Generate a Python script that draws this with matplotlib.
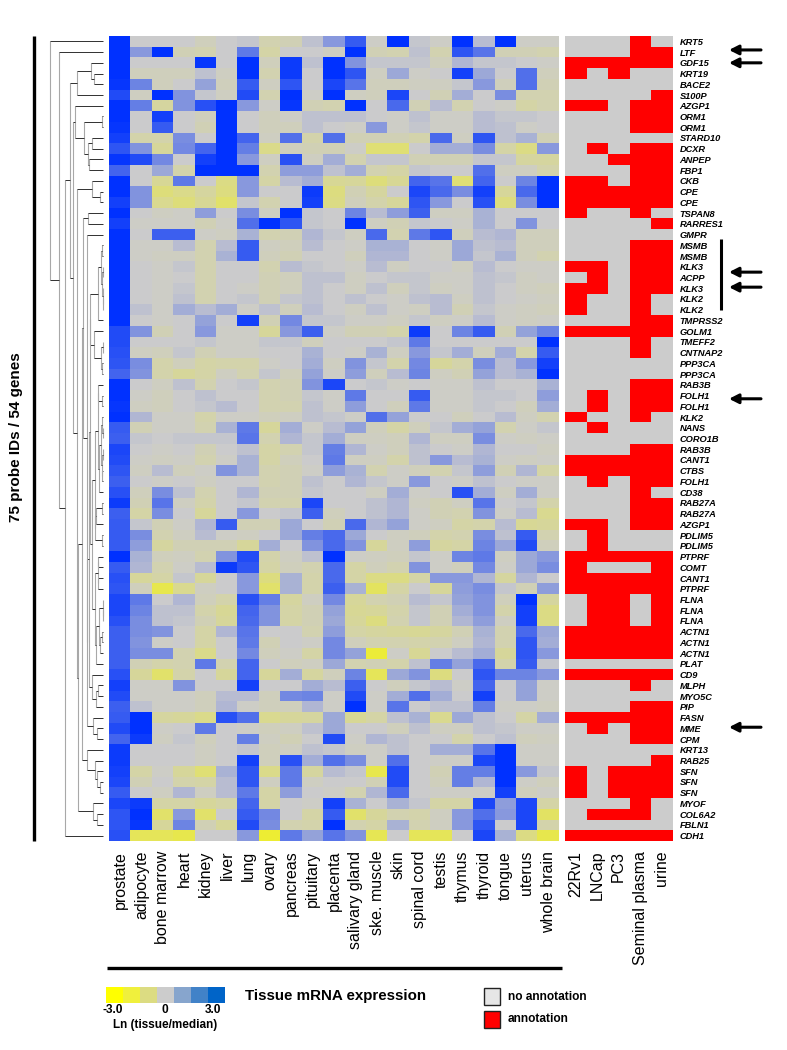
import matplotlib
matplotlib.use("Agg")
import matplotlib.pyplot as plt
from matplotlib.colors import LinearSegmentedColormap, ListedColormap
import numpy as np

plt.rcParams['font.family'] = ['Liberation Sans', 'DejaVu Sans']

tissues = ["prostate", "adipocyte", "bone marrow", "heart", "kidney", "liver", "lung", "ovary",
           "pancreas", "pituitary", "placenta", "salivary gland", "ske. muscle", "skin",
           "spinal cord", "testis", "thymus", "thyroid", "tongue", "uterus", "whole brain"]
sources = ["22Rv1", "LNCap", "PC3", "Seminal plasma", "urine"]
genes = ["KRT5", "LTF", "GDF15", "KRT19", "BACE2", "S100P", "AZGP1", "ORM1", "ORM1", "STARD10",
         "DCXR", "ANPEP", "FBP1", "CKB", "CPE", "CPE", "TSPAN8", "RARRES1", "GMPR", "MSMB",
         "MSMB", "KLK3", "ACPP", "KLK3", "KLK2", "KLK2", "TMPRSS2", "GOLM1", "TMEFF2", "CNTNAP2",
         "PPP3CA", "PPP3CA", "RAB3B", "FOLH1", "FOLH1", "KLK2", "NANS", "CORO1B", "RAB3B", "CANT1",
         "CTBS", "FOLH1", "CD38", "RAB27A", "RAB27A", "AZGP1", "PDLIM5", "PDLIM5", "PTPRF", "COMT",
         "CANT1", "PTPRF", "FLNA", "FLNA", "FLNA", "ACTN1", "ACTN1", "ACTN1", "PLAT", "CD9",
         "MLPH", "MYO5C", "PIP", "FASN", "MME", "CPM", "KRT13", "RAB25", "SFN", "SFN",
         "SFN", "MYOF", "COL6A2", "FBLN1", "CDH1"]

# Ln(tissue/median), one row per probe
expression = [
    [3, 0, 0, 0, -.3, 0, .1, -.5, -.4, .2, 1, 2.2, -.1, 3, .1, -.1, 3, .3, 3, -.1, -.1],
    [3, 1, 3, -.4, -.5, 0, 1.6, -.7, 0, 0, -.2, 3, -.4, -.5, .2, -.5, 2.3, 1.7, -.4, -.4, -.5],
    [3, 0, 0, 0, 2.9, 0, 3, -.3, 2.8, .2, 3, 1.1, .1, .1, .1, -.3, .4, .1, .1, 0, -.1],
    [3, -.3, -.3, -.3, .2, -.2, 3, -.5, 2.8, 0, 3, 2.3, -.2, .7, -.1, 0, 2.7, .7, 0, 1.8, -.3],
    [2.9, 1.4, -.3, 0, .8, -.3, 2.2, -.2, 2.3, 0, 2.6, 1.7, -.3, -.3, -.2, -.2, .1, 1, -.3, 1.8, -.4],
    [2.5, -.2, 3, 1.1, .1, -.2, 2.5, -.5, 3, -.1, 3, -.2, -.3, 2.6, 0, -.4, .6, 0, 1.2, -.5, -.5],
    [3, 1.5, -.8, 1.1, 2.4, 3, 1, -.1, 2.9, -.4, -.5, 3, 0, 1.9, -.4, .3, -.5, 0, -.1, -.7, -.5],
    [3, 0, 2.7, 0, -.3, 3, 0, -.3, -.1, .2, .2, .2, 0, -.1, .2, -.1, -.1, .3, .1, .1, 0],
    [2.9, 0, 2.2, 0, -.4, 3, 0, -.3, -.3, .2, 0, -.1, 1, -.1, .1, -.1, -.1, .3, .2, -.1, 0],
    [2.7, -.6, -.6, 1.2, 0, 3, 2, -.2, 1.8, -.6, 1.8, -.4, -.4, -.4, -.6, 1.9, -.2, 2.3, .2, .5, -.4],
    [2.3, 1.1, -.9, 1.3, 2, 3, 1.5, -1.2, -.3, -.4, -.4, -.1, -1.6, -1.6, 0, .6, .6, 1.2, -.7, -1.3, 1],
    [2.9, 2.5, 1.3, 0, 2.7, 3, 1, -.2, 2.4, -.2, .6, -.5, .1, .1, -.4, -.4, -.4, .1, .1, -.8, -.8],
    [2, 0, .7, -.6, 3, 3, 3, -.5, .9, .9, .2, .6, -.5, -.7, .1, 0, 0, 1.8, -.2, -.2, -.6],
    [3, 0, -1, 1.6, 0, -1.3, 1, -.7, .3, .6, -1, -.9, -1.5, -1, 2, 1.7, -1.6, 2, 0, 1.4, 3],
    [3, 1.1, -1.5, -1.2, -.8, -1.4, 1, 0, 0, 2.8, -1.4, -.4, -.8, 0, 2.6, 1.9, 1.2, 2.7, -.9, 1.9, 3],
    [2.7, 1.1, -1.1, -1.5, -1, -1.8, .1, -.5, 0, 2.7, -1.3, -.3, -.6, -.9, 2.3, 1, 0, 2.4, -1.4, 1.2, 3],
    [3, 0, -.2, -.1, .9, 0, 1.2, -.2, 3, .1, 0, 1.4, .3, .9, 2.1, -.2, -.2, .5, 0, 0, 0],
    [2.7, -.1, -.1, -.1, -.4, -.1, 1.8, 3, 2.3, .1, 0, 3, -.2, -.4, .1, 0, -.1, .5, 0, 1.1, 0],
    [3, 0, 2.1, 2.1, -.1, -.2, .5, -.5, -.4, .4, .1, -.2, 1.9, -.5, 1.6, 2.3, -.3, .3, .4, -.3, -.3],
    [3, -.1, -.1, .3, -.5, .3, 2.2, -.2, -.3, .3, 0, -.1, .5, .5, 0, -.1, .7, .2, .3, -.3, -.3],
    [3, -.1, -.2, -.2, -.5, .5, 2.2, -.3, -.4, 0, 0, -.3, .4, .4, 0, -.1, .7, .1, .5, -.3, -.5],
    [3, 0, -.1, .1, -.5, 0, 0, -.5, .3, .1, 0, -.1, .3, -.2, 0, 0, -.2, .3, 0, -.1, -.1],
    [3, 0, -.1, 0, -.5, 0, 0, -.4, -.3, .2, .2, -.2, 0, .1, .1, -.1, -.1, .2, .1, -.2, -.1],
    [3, 0, -.1, .1, -.5, 0, -.1, -.4, -.3, .2, 0, -.2, .2, -.3, .1, -.2, -.1, .2, 0, -.2, -.3],
    [3, 0, -.1, .2, -.5, 0, .1, -.4, .1, .2, 0, .2, 0, -.1, .2, .3, -.2, .2, 0, -.1, -.2],
    [3, .2, -.1, .6, .3, .6, -.1, .2, -.3, .3, 0, -.2, .2, -.1, -.2, .3, -.4, .1, -.1, -.2, -.3],
    [3, 0, -.1, 0, .8, 0, 2.7, -.4, 1.3, .1, .1, -.1, -.1, -.2, .1, -.2, -.1, .3, -.1, -.2, -.1],
    [2.5, 1.1, -.4, 0, 1, -.1, -.1, -.9, 1, 2.1, -.1, -.4, -.4, -.6, 2.8, 0, 1.4, 2.2, -.4, .8, 1.4],
    [2.5, 0, 0, 0, .1, -.1, -.1, .1, .1, -.3, 0, 0, 0, .1, 1.6, 0, 0, 0, 0, 0, 3],
    [2.4, -.2, -.3, .1, -.4, -.1, -.1, 0, 0, .5, 0, -.1, .5, -.2, 1, .1, .6, -.3, .6, -.6, 2.2],
    [2.3, 1.2, -.6, -.3, -.7, -.6, -.6, -.1, 0, .6, -.2, 1.1, .1, -.6, 1.3, -.9, -.6, 1.2, .3, 1, 2.7],
    [2, 1.1, -.6, -.9, -.7, -.2, -.5, .1, -.3, .8, -.1, .9, -.3, .3, 1.4, -.2, -.4, .8, .3, .5, 3],
    [3, 0, -.2, .2, -.5, 0, .1, -.5, -.4, 1.1, 2.6, 0, .1, -.1, 0, -.1, -.1, .2, 0, 0, .5],
    [3, -.1, -.3, 0, .2, 0, 0, -.5, -.4, .1, -.1, 1.6, 0, 0, 2.2, -.1, -.1, .1, .1, 0, .9],
    [2.9, -.2, -.3, 0, .1, .3, 0, -.5, -.5, .2, -.1, .9, 0, -.3, 1.6, -.1, -.1, .1, 0, -.3, .6],
    [3, .4, -.1, -.1, -.6, -.1, -.1, -.3, -.2, .2, .1, -.1, 1.8, .8, 0, 0, -.3, 0, .3, -.2, -.5],
    [2.2, -.4, -.1, -.1, -.5, .5, 1.6, -.9, .6, -.1, .3, .8, -.3, -.7, -.3, .1, .6, .8, -.5, -.1, .1],
    [2.1, .1, 0, .1, .1, .1, 1.7, -.5, .4, .1, .6, -.2, -.2, -.3, .4, -.2, -.2, 1.2, -.1, -.2, -.1],
    [2.6, 0, -.1, 0, -.4, 0, .2, -.7, -.5, .1, 1.5, .4, -.1, -.3, .2, 0, -.1, .4, 0, 0, -.2],
    [2.5, -.1, -.2, -.1, -.5, -.1, .5, -.7, -.3, 0, 1.6, -.2, -.2, -.6, .2, 1, .3, .5, -.1, -.2, -.1],
    [2.3, -.2, .3, -.3, -.1, 1.1, .5, -.5, -.4, -.1, .9, .5, -.5, -.1, -.3, -.5, .1, .9, -.4, .4, -.7],
    [2.1, 0, -.1, 0, -.2, 0, 0, -.5, -.4, .2, 0, .4, .1, -.1, 1, 0, -.1, .2, 0, -.1, -.1],
    [2.4, -.3, 1.2, .2, -.5, 0, .4, -.4, -.4, .1, 0, 0, -.2, .6, -.1, 0, 2.4, .6, -.2, .6, -.1],
    [2.8, -.4, 1.7, -.2, -.6, 0, .1, -.5, -.5, 2.6, 0, 0, .2, .4, -.2, -.4, -.2, 1.7, 0, .1, -.6],
    [2.1, -.7, 1.2, 0, -.9, 0, 1, 0, .1, 2.1, -.3, 0, .2, .4, -.1, -.4, -.5, 1.1, -.1, .3, -1.1],
    [2.2, .1, -.4, -.1, .4, 2.2, -.4, -.4, .7, 0, -.4, 1.9, .4, .8, -.1, -.2, -.7, -.6, .3, -1, -.9],
    [2.2, 1.2, -.5, -.2, .3, -.1, -.2, 0, .7, 1.5, 1.9, .7, 0, -.2, -.3, -.6, -.5, 1.2, .2, 2.2, -.5],
    [2.2, .9, -.8, -.4, -.4, -.4, -.9, .6, 0, 1.1, 1.9, 1.1, -.9, -.2, .9, -.8, -.7, 1.4, .7, 2.5, -.3],
    [3, .5, -.3, -.2, -.5, 1.1, 2.5, -.6, -.2, .2, 3, -.1, -.2, -.3, .1, -.1, 1.4, 1.6, -.2, .7, 1],
    [2.2, .4, -.5, -.1, .3, 2.8, 2.3, -.7, -.3, -.5, 1.9, -.7, -.3, -.5, 1.1, -.1, -.3, 1.3, -.1, .7, 1.2],
    [2.4, -.9, -.7, .1, -.9, 0, 1, -1.4, .5, -.6, 1.9, -.7, -1.3, -1.3, -.7, 1, 1, .4, -.8, .4, 0],
    [2.3, -.3, -2.3, -1.1, -.2, 0, 1, -1.8, .5, -.6, 2.1, .5, -2, -.7, 0, -.9, .9, 1.2, .1, -.4, .9],
    [2.6, 1.6, 0, .4, -.3, -.6, 2.4, 1.5, -.8, -.2, 1.3, -.9, -.5, -.4, .3, .1, .8, 1.1, -.3, 3, -.8],
    [2.6, 1.4, .2, .2, -.6, -1, 2, 1.1, -.7, -.4, .8, -1, -.9, -.6, .1, -.4, .6, 1.1, -.6, 2.7, -1.3],
    [2.4, 1.2, .2, .1, -.4, -.9, 1.9, 1.1, -.7, -.4, .7, -.9, -1.4, -.5, .1, -.4, .4, .9, -.2, 2.7, -1.3],
    [2.1, 1.2, 1.1, 0, -.7, .4, 1.7, 0, 0, -.5, .9, -.7, -.8, -.9, -1, -.8, -.4, .5, -.5, 1.9, .7],
    [2.1, 1.1, -.1, 0, -.7, 0, 1.6, -.4, 0, -.1, 1.3, -.3, -.5, -.5, -.6, -.5, -.2, .4, -.5, 2.3, .6],
    [2.1, 1.2, 1.2, -.5, -1.2, 0, 1.3, -.3, -.1, -.7, 1.3, .8, -2.7, -.1, -1, 0, .3, .6, -.9, 2.3, 1],
    [2.1, -.4, -.6, -.5, 1.6, -.5, 2, 0, -.3, -.2, .7, -.5, -.4, -.6, .2, 1.5, .8, 1.9, -.6, 2.2, .1],
    [2.4, -.9, -1.8, -.6, 0, -.9, 2, -.9, .6, -.8, -.3, 1.4, -2.1, .7, 1.1, -1.4, 0, 2.3, 1.4, 1.4, 1],
    [2.7, -.1, -.1, 1.1, 0, 0, 2.7, 0, 0, .6, .3, 2.1, 0, -.3, .1, .3, -.1, 2, 0, .8, -.1],
    [2.5, -.1, -.1, -.1, -.3, .3, .3, -.3, 1.3, 1.4, -.1, 2.5, -.1, .6, 1.8, .6, 0, 2.7, 0, .8, -.1],
    [2.1, .2, -.1, -.1, -.3, .4, -.1, -.3, -.3, .4, -.1, 3, -.1, 1.7, 0, .2, .2, 1.5, -.1, -.1, -.2],
    [2.2, 3, -.8, -.9, -1.2, 2.4, 1.8, -1.1, -.9, -.8, .7, -1, -.7, .2, .5, -1.1, .7, .2, 0, -.7, .6],
    [2.5, 3, -.1, 0, 1.6, 0, -.1, -.3, -.2, .2, .7, 0, 0, -.3, .2, -.2, -.2, .2, .1, -.1, -.1],
    [2, 2.8, -.2, .1, -.3, 0, 1.5, -.2, -.4, 0, 2.5, -.1, .4, .2, 0, 0, -.6, 0, .2, -.3, -.2],
    [2.8, 0, 0, 0, -.2, 0, .1, -.3, -.2, .2, .1, -.2, -.1, .2, 0, .6, .6, 1.7, 3, -.1, -.1],
    [2.8, 0, 0, 0, -.2, 0, 2.7, -.3, 2.4, .6, 1.8, 1.2, -.1, 1.8, 0, -.1, -.1, 2.6, 3, -.1, -.1],
    [2.7, -.7, -.1, -.9, -1.6, .5, 2.3, -1.2, 1.6, -.8, .3, .1, -2.3, 2.5, 0, -.4, 1.5, 1.5, 3, 1, .1],
    [2.6, -.4, 0, -.6, -.7, .3, 2.3, -.2, 1.6, -.2, 0, 0, -.4, 2.5, 0, -.3, 1.5, .4, 3, -.1, -.3],
    [2.2, 0, -.2, .4, -.2, .3, 1.6, -.7, .9, 0, -.1, -.5, .4, 1.9, 0, -.1, -.1, -.1, 2.7, -.3, -.1],
    [2.6, 2.8, -.7, -.7, -.9, -.7, 2, -.7, 0, -.1, 2.7, .5, 0, .5, .1, -.7, -.7, 2.6, .9, 2.6, -.7],
    [2.3, 3, -1.8, 1, -1.8, 0, 2.2, 1.3, 0, -.7, 2.2, -1.8, -.9, -.5, -.6, -.2, 1, 1.8, 1, 2.6, -1.9],
    [2.3, 2.9, -.9, 1.4, -.4, -.9, 2.5, 1.2, -.5, -.6, 3, -.5, -.7, .5, -.5, -.2, 1, 2.3, 0, 2.6, -.6],
    [2.4, -2.1, -2.1, -2.3, 0, 0, 1, -2.8, 1.6, .8, 1.7, 1.1, -2.2, 0, -2.1, -2.1, 0, 2.6, .5, -1.3, -2.3],
]

# 1 = annotated, columns as in sources
annotation = ["00010", "00011", "11111", "10100", "00000", "00001", "11011", "00011", "00011", "00000",
              "01011", "00111", "00011", "11011", "11111", "11111", "10010", "00001", "00000", "00011",
              "00011", "11011", "01011", "11011", "10010", "10010", "00011", "11111", "00010", "00010",
              "00000", "00000", "00011", "01011", "01011", "10010", "01000", "00000", "00011", "11111",
              "11111", "01011", "00010", "00011", "00011", "11011", "01000", "01000", "11111", "10001",
              "11111", "11111", "01101", "01101", "01101", "11111", "11111", "11111", "00000", "11111",
              "00010", "00000", "00011", "11111", "01011", "00011", "00000", "00001", "10111", "10111",
              "10111", "00010", "01110", "00000", "11111"]

# dendrogram as (height, child, child), int = row of the heatmap
group1 = (5.3, (2.3, (1.3, 19, 20), (1, (.8, 21, 22), (.8, 23, (.6, 24, 25)))), 26)
group2 = (9, 27, (2.6, (.6, 28, 29), (1.3, 30, 31)))
prostate_a = (5.2, (5, 32, (1.3, 33, 34)),
              (4.5, (2.5, (1, 35, (.8, 36, 37)), (1.8, (.8, 38, 39), (1, 40, 41))), 42))
prostate_b = (8.5, (7, (1, 43, 44), 45), (1.3, 46, 47))
group4 = (5.3, (5, 48, 49), (5, 50, 51))
group5 = (7.3, (4.5, (.5, 52, (.5, 53, 54)), (3.8, (1.3, 55, 56), 57)), 58)
upper = (13.7, (13.3, group1, group2), (11.6, (8.8, prostate_a, prostate_b), (8.3, group4, group5)))
mid = (14.5, upper, (11.5, 59, (7.5, (5, 60, 61), 62)))
low = (16.3, 18, (16, mid, (10, 63, (6, 64, 65))))
branch_h = (21.5, (20.5, (15, 16, 17), low), (16, 66, (8, 67, (6, 68, (3, 69, 70)))))
branch_g = (25, branch_h, (10, 71, (6, 72, 73)))
branch_e = (26, (11.5, 13, (3, 14, 15)), branch_g)
branch_d = (19, (1.5, 7, 8), (15, (11.5, 9, 10), (14, 11, 12)))
branch_c = (30, (28, 6, branch_d), branch_e)
branch_b = (26, (12, 2, (9, 3, 4)), 5)
tree = (53, 0, (44, 1, (38, (33, branch_b, branch_c), 74)))

legend_colors = ["#ffff00", "#f0f03c", "#dcdc82", "#cccccc", "#87a5cd", "#4182c8", "#0064c8"]
arrow_rows = [0.8, 2, 21.5, 22.9, 33.3, 63.9]

W, H = 787, 1050
fig = plt.figure(figsize=(W / 100, H / 100), dpi=100)


def px_axes(x0, y0, x1, y1):
    return fig.add_axes([x0 / W, 1 - y1 / H, (x1 - x0) / W, (y1 - y0) / H])


heat_cmap = LinearSegmentedColormap.from_list(
    "heat", [(0.94, 0.94, 0.16), (0.8, 0.8, 0.8), (0, 0.196, 1)])
TOP, BOTTOM = 36, 841

ax = px_axes(109.4, TOP, 559, BOTTOM)
ax.imshow(np.array(expression), cmap=heat_cmap, vmin=-3, vmax=3, aspect="auto", interpolation="nearest")
ax.set_xticks(range(len(tissues)))
ax.set_xticklabels(tissues, rotation=90, fontsize=11.5, va="top", ha="center")
ax.set_yticks([])
ax.tick_params(axis="x", length=0, pad=7)
for s in ax.spines.values():
    s.set_visible(False)

ax2 = px_axes(564.7, TOP, 672.3, BOTTOM)
ann = np.array([[int(c) for c in row] for row in annotation])
ax2.imshow(ann, cmap=ListedColormap(["#cccccc", "#ff0000"]), vmin=0, vmax=1, aspect="auto", interpolation="nearest")
ax2.set_xticks(range(len(sources)))
ax2.set_xticklabels(sources, rotation=90, fontsize=11.5, va="top", ha="center")
ax2.yaxis.tick_right()
ax2.set_yticks(range(len(genes)))
ax2.set_yticklabels(genes, fontsize=6.7, fontweight="bold", fontstyle="italic", ha="left")
ax2.tick_params(axis="x", length=0, pad=7)
ax2.tick_params(axis="y", length=0, pad=5.2)
for s in ax2.spines.values():
    s.set_visible(False)

# dendrogram
ax3 = px_axes(50, TOP, 103.3, BOTTOM)
ax3.set_xlim(53.3, 0)
ax3.set_ylim(len(genes) - 0.5, -0.5)
ax3.axis("off")


def draw(node):
    if isinstance(node, int):
        return 0, node
    h, a, b = node
    ha, ya = draw(a)
    hb, yb = draw(b)
    ax3.plot([h, h], [ya, yb], color="#a8a8a8", lw=0.8, solid_capstyle="butt", clip_on=False)
    ax3.plot([ha, h], [ya, ya], color="#303030", lw=0.7, solid_capstyle="butt", clip_on=False)
    ax3.plot([hb, h], [yb, yb], color="#303030", lw=0.7, solid_capstyle="butt", clip_on=False)
    return h, (ya + yb) / 2


draw(tree)

# page level lines, arrows and legends in pixels
page = fig.add_axes([0, 0, 1, 1], zorder=5)
page.set_xlim(0, W)
page.set_ylim(H, 0)
page.axis("off")
page.plot([34, 34], [36, 841], color="black", lw=2.4, solid_capstyle="butt")
page.plot([107, 562], [968, 968], color="black", lw=2.4, solid_capstyle="butt")
page.plot([720.7, 720.7], [239, 310], color="black", lw=2.2, solid_capstyle="butt")
page.text(16, 437, "75 probe IDs / 54 genes", rotation=90, ha="center", va="center",
          fontsize=11, fontweight="bold")
row_h = (BOTTOM - TOP) / len(genes)
for r in arrow_rows:
    y = TOP + (r + 0.5) * row_h
    page.annotate("", xy=(729, y), xytext=(761, y),
                  arrowprops=dict(arrowstyle="-|>,head_width=0.28,head_length=0.55", color="black",
                                  lw=2.2, shrinkA=0, shrinkB=0))

ax4 = px_axes(106, 987, 224, 1003)
ax4.imshow([list(range(len(legend_colors)))], cmap=ListedColormap(legend_colors), aspect="auto")
ax4.axis("off")
page.text(113, 1010, "-3.0", ha="center", va="center", fontsize=8.6, fontweight="bold")
page.text(165, 1010, "0", ha="center", va="center", fontsize=8.6, fontweight="bold")
page.text(213, 1010, "3.0", ha="center", va="center", fontsize=8.6, fontweight="bold")
page.text(165, 1025, "Ln (tissue/median)", ha="center", va="center", fontsize=8.5, fontweight="bold")
page.text(245, 996, "Tissue mRNA expression", ha="left", va="center", fontsize=10.9, fontweight="bold")
for y0, col, lab in [(988, "#e6e6e6", "no annotation"), (1011, "#ff0000", "annotation")]:
    page.add_patch(plt.Rectangle((484, y0), 16, 17, facecolor=col, edgecolor="#222222", lw=1))
    page.text(508, y0 + 8.5, lab, ha="left", va="center", fontsize=8.6, fontweight="bold")

fig.savefig("out.png", dpi=100)
